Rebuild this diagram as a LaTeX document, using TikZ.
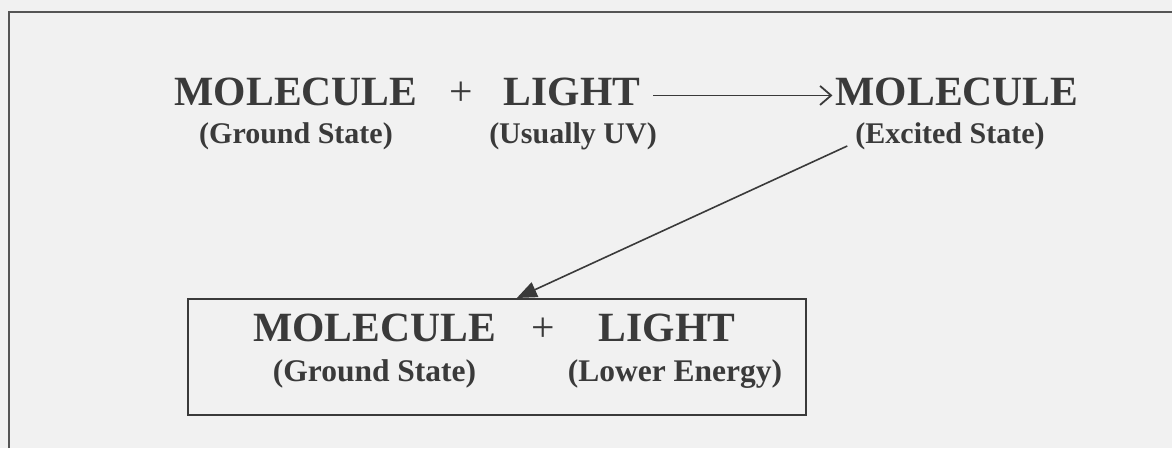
\documentclass[tikz,border=0pt]{standalone}
\usepackage{fontspec}
\setmainfont{Liberation Serif}
\usetikzlibrary{arrows.meta, calc}
\definecolor{cInk}{RGB}{58,58,58}
\definecolor{cPaper}{RGB}{241,241,241}
\definecolor{cRule}{RGB}{85,85,85}
\tikzset{
	bigtxt/.style ={anchor=base, inner sep=0pt, text=cInk, font=\bfseries\fontsize{41.6}{44}\selectfont},
	plustxt/.style={anchor=base, inner sep=0pt, text=cInk, font=\fontsize{41.6}{44}\selectfont},
	subtxt/.style ={anchor=base, inner sep=0pt, text=cInk, font=\bfseries\fontsize{30}{32}\selectfont},
	boxsub/.style ={subtxt, font=\bfseries\fontsize{31.5}{33}\selectfont},
	prodbox/.style={rectangle, draw=cInk, line width=2pt, minimum width=618pt, minimum height=116pt, inner sep=0pt},
	rxn/.style    ={-{Straight Barb[length=11pt,width=19pt,line width=1.8pt]}, line width=1.8pt, draw=cInk},
	emit/.style   ={-{Triangle[length=20pt,width=16pt]}, line width=1.6pt, draw=cInk},
}

\begin{document}
\begin{tikzpicture}[x=1pt, y=-1pt]
	\fill[cPaper] (0,0) rectangle (1172,448);
	\useasboundingbox (0,0) rectangle (1172,448);
	\draw[cRule, line width=2pt] (9,448) -- (9,12) -- (1172,12);
	% absorption
	\node[bigtxt]  (molA)   at (296,105) {MOLECULE};
	\node[plustxt] (plusA)  at (461,105) {+};
	\node[bigtxt]  (lightA) at (572,105) {LIGHT};
	\node[bigtxt]  (molB)   at (957,105) {MOLECULE};
	\node[subtxt]  (gsA)    at (296,143) {(Ground State)};
	\node[subtxt]  (uvA)    at (573,143) {(Usually UV)};
	\node[subtxt]  (exc)    at (950,143) {(Excited State)};
	\draw[rxn] ([xshift=13pt,yshift=-4pt]lightA.east) -- ([xshift=-3pt,yshift=-4pt]molB.west);
	% emission
	\node[prodbox] (lower)  at (497,357) {};
	\node[bigtxt]  (molC)   at (374.5,341) {MOLECULE};
	\node[plustxt] (plusC)  at (543,341) {+};
	\node[bigtxt]  (lightC) at (667,341) {LIGHT};
	\node[boxsub]  (gsC)    at (374.5,381) {(Ground State)};
	\node[boxsub]  (leC)    at (675,381) {(Lower Energy)};
	\coordinate (hit) at ($(lower.north west)!0.532!(lower.north east)$);
	\draw[emit] ($(exc.base west)+(-8,3)$) -- (hit);
\end{tikzpicture}
\end{document}
